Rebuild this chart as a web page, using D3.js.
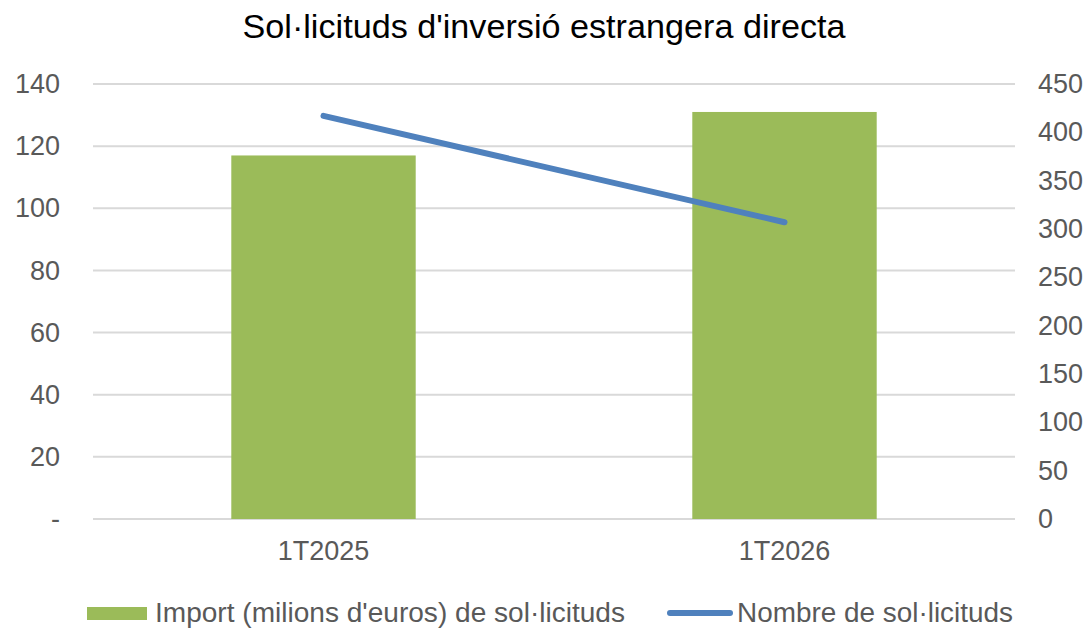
<!DOCTYPE html>
<html lang="ca">
<head>
    <meta charset="utf-8"/>
    <title>Sol·licituds d'inversió estrangera directa</title>
    <script src="https://cdn.jsdelivr.net/npm/d3@7"></script>
    <style>
        body { margin: 0; background: #fff; }
        text { font-family: "Liberation Sans", Arial, sans-serif; fill: #595959; }
    </style>
</head>
<body>
<div id="chart"></div>
<script>
// dades
var categories = ["1T2025", "1T2026"];
var importValues = [117, 131];       // milions d'euros (eix esquerre)
var nombreValues = [417, 307];       // nombre de sol·licituds (eix dret)
var leftTicks = [0, 20, 40, 60, 80, 100, 120, 140];
var rightTicks = [0, 50, 100, 150, 200, 250, 300, 350, 400, 450];
var seriesNames = ["Import (milions d'euros) de sol·licituds", "Nombre de sol·licituds"];
var title = "Sol·licituds d'inversió estrangera directa";

var width = 1092, height = 629;
var plot = { left: 93, right: 1015, top: 84, bottom: 519 };

var svg = d3.select("#chart").append("svg")
    .attr("width", width)
    .attr("height", height);

// escales
var x = d3.scaleBand()
    .domain(categories)
    .range([plot.left, plot.right])
    .paddingInner(0.6)
    .paddingOuter(0.3);

var yLeft = d3.scaleLinear().domain([0, 140]).range([plot.bottom, plot.top]);
var yRight = d3.scaleLinear().domain([0, 450]).range([plot.bottom, plot.top]);

// línies de quadrícula
svg.append("g")
    .selectAll("line")
    .data(leftTicks)
    .join("line")
    .attr("x1", plot.left)
    .attr("x2", plot.right)
    .attr("y1", d => yLeft(d))
    .attr("y2", d => yLeft(d))
    .attr("stroke", "#d9d9d9")
    .attr("stroke-width", 2);

// eix esquerre
var axisL = svg.append("g")
    .attr("transform", "translate(" + (plot.left - 33) + ",0)")
    .call(d3.axisLeft(yLeft).tickValues(leftTicks).tickSize(0).tickPadding(0)
        .tickFormat(d => d === 0 ? "-" : d));
axisL.select(".domain").remove();
axisL.selectAll("text")
    .attr("font-size", 27)
    .attr("fill", "#595959")
    .attr("font-family", "Liberation Sans, Arial, sans-serif");

// eix dret
var axisR = svg.append("g")
    .attr("transform", "translate(" + (plot.right + 23) + ",0)")
    .call(d3.axisRight(yRight).tickValues(rightTicks).tickSize(0).tickPadding(0));
axisR.select(".domain").remove();
axisR.selectAll("text")
    .attr("font-size", 27)
    .attr("fill", "#595959")
    .attr("font-family", "Liberation Sans, Arial, sans-serif");

// eix de categories
var axisX = svg.append("g")
    .attr("transform", "translate(0," + plot.bottom + ")")
    .call(d3.axisBottom(x).tickSize(0).tickPadding(22));
axisX.select(".domain").remove();
axisX.selectAll("text")
    .attr("font-size", 27)
    .attr("fill", "#595959")
    .attr("font-family", "Liberation Sans, Arial, sans-serif");

// barres
svg.append("g")
    .selectAll("rect")
    .data(importValues)
    .join("rect")
    .attr("x", (d, i) => x(categories[i]))
    .attr("y", d => yLeft(d))
    .attr("width", x.bandwidth())
    .attr("height", d => yLeft(0) - yLeft(d))
    .attr("fill", "#9bbb59");

// línia
var line = d3.line()
    .x((d, i) => x(categories[i]) + x.bandwidth() / 2)
    .y(d => yRight(d));

svg.append("path")
    .datum(nombreValues)
    .attr("d", line)
    .attr("fill", "none")
    .attr("stroke", "#4f81bd")
    .attr("stroke-width", 6)
    .attr("stroke-linecap", "round");

// títol (lletra estreta com a l'original)
svg.append("text")
    .attr("x", 544)
    .attr("y", 38)
    .attr("text-anchor", "middle")
    .attr("font-size", 33)
    .attr("textLength", 603)
    .attr("lengthAdjust", "spacingAndGlyphs")
    .style("fill", "#000")
    .text(title);

// llegenda
var legend = svg.append("g");
legend.append("rect")
    .attr("x", 87).attr("y", 607)
    .attr("width", 60).attr("height", 13)
    .attr("fill", "#9bbb59");
legend.append("text")
    .attr("x", 155).attr("y", 622)
    .attr("font-size", 27)
    .attr("textLength", 470)
    .attr("lengthAdjust", "spacingAndGlyphs")
    .text(seriesNames[0]);
legend.append("line")
    .attr("x1", 670).attr("x2", 730)
    .attr("y1", 613).attr("y2", 613)
    .attr("stroke", "#4f81bd")
    .attr("stroke-width", 6)
    .attr("stroke-linecap", "round");
legend.append("text")
    .attr("x", 737).attr("y", 622)
    .attr("font-size", 27)
    .attr("textLength", 276)
    .attr("lengthAdjust", "spacingAndGlyphs")
    .text(seriesNames[1]);
</script>
</body>
</html>
